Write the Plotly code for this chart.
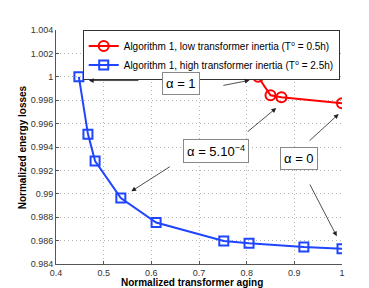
import plotly.graph_objects as go

# Data
low_x = [0.824, 0.850, 0.873, 1.0]
low_y = [1.0000, 0.99842, 0.99825, 0.99773]
high_x = [0.448, 0.467, 0.482, 0.536, 0.610, 0.752, 0.805, 0.920, 1.0]
high_y = [1.0000, 0.9951, 0.9928, 0.98964, 0.98755, 0.98597, 0.98577, 0.98545, 0.98531]

low_name = "Algorithm 1, low transformer inertia (T⁰ = 0.5h)"
high_name = "Algorithm 1, high transformer inertia (T⁰ = 2.5h)"

x_title = "Normalized transformer aging"
y_title = "Normalized energy losses"

x_ticks = [0.4, 0.5, 0.6, 0.7, 0.8, 0.9, 1.0]
x_labels = ["0.4", "0.5", "0.6", "0.7", "0.8", "0.9", "1"]
y_ticks = [0.984, 0.986, 0.988, 0.99, 0.992, 0.994, 0.996, 0.998, 1.0, 1.002, 1.004]
y_labels = ["0.984", "0.986", "0.988", "0.99", "0.992", "0.994", "0.996", "0.998", "1", "1.002", "1.004"]

# label boxes: text, x, y
labels = [
    ("α = 1", 0.662, 0.99943),
    ("α = 5.10<sup>−4</sup>", 0.736, 0.99366),
    ("α = 0", 0.910, 0.99306),
]
# arrows: (head_x, head_y, tail_x, tail_y)
arrows = [
    (0.469, 0.99968, 0.576, 0.99968),
    (0.806, 0.99970, 0.748, 0.99924),
    (0.558, 0.99021, 0.642, 0.99240),
    (0.862, 0.99733, 0.799, 0.99520),
    (0.993, 0.99682, 0.929, 0.99443),
    (0.989, 0.98637, 0.931, 0.99092),
]

FONT = "Liberation Sans, Arial, DejaVu Sans"

fig = go.Figure()
fig.add_trace(go.Scatter(
    x=low_x, y=low_y, mode="lines+markers", name=low_name,
    line=dict(color="#ff0000", width=2),
    marker=dict(symbol="circle-open", size=10, color="#ff0000", line=dict(width=2)),
))
fig.add_trace(go.Scatter(
    x=high_x, y=high_y, mode="lines+markers", name=high_name,
    line=dict(color="#1f45ff", width=2),
    marker=dict(symbol="square-open", size=9, color="#1f45ff", line=dict(width=2)),
))

annotations = []
for hx, hy, tx, ty in arrows:
    annotations.append(dict(
        x=hx, y=hy, ax=tx, ay=ty, xref="x", yref="y", axref="x", ayref="y",
        text="", showarrow=True, arrowhead=2, arrowsize=1.2, arrowwidth=0.8,
        arrowcolor="#222222",
    ))
for t, x, y in labels:
    annotations.append(dict(
        x=x, y=y, xref="x", yref="y", text=t, showarrow=False,
        font=dict(family=FONT, size=13, color="black"),
        bgcolor="white", bordercolor="#888888", borderwidth=1, borderpad=3,
    ))
# axis titles
annotations.append(dict(
    x=0.4755, y=-0.079, xref="paper", yref="paper", xanchor="center", yanchor="middle",
    text="<b>" + x_title + "</b>", showarrow=False,
    font=dict(family=FONT, size=10, color="black"),
))
annotations.append(dict(
    x=-0.117, y=0.497, xref="paper", yref="paper", xanchor="center", yanchor="middle",
    text="<b>" + y_title + "</b>", showarrow=False, textangle=-90,
    font=dict(family=FONT, size=10, color="black"),
))

axis_common = dict(
    showgrid=True, gridcolor="#b4b4b4", griddash="1px,3px", gridwidth=1,
    showline=True, linecolor="#555555", linewidth=1, mirror=False,
    ticks="inside", ticklen=3, tickcolor="#555555",
    tickfont=dict(family=FONT, size=9, color="#333333"),
    zeroline=False, automargin=False,
)

fig.update_layout(
    width=369, height=288,
    margin=dict(l=48, r=35, t=22, b=32),
    plot_bgcolor="white", paper_bgcolor="white",
    xaxis=dict(range=[0.4, 1.0], tickvals=x_ticks, ticktext=x_labels, **axis_common),
    yaxis=dict(range=[0.984, 1.004], tickvals=y_ticks, ticktext=y_labels, **axis_common),
    legend=dict(x=0.992, y=0.998, xanchor="right", yanchor="top",
                bgcolor="white", bordercolor="#333333", borderwidth=1,
                font=dict(family=FONT, size=10, color="black"),
                tracegroupgap=0, itemwidth=30),
    annotations=annotations,
    showlegend=True,
)

fig.write_html("out.html")
